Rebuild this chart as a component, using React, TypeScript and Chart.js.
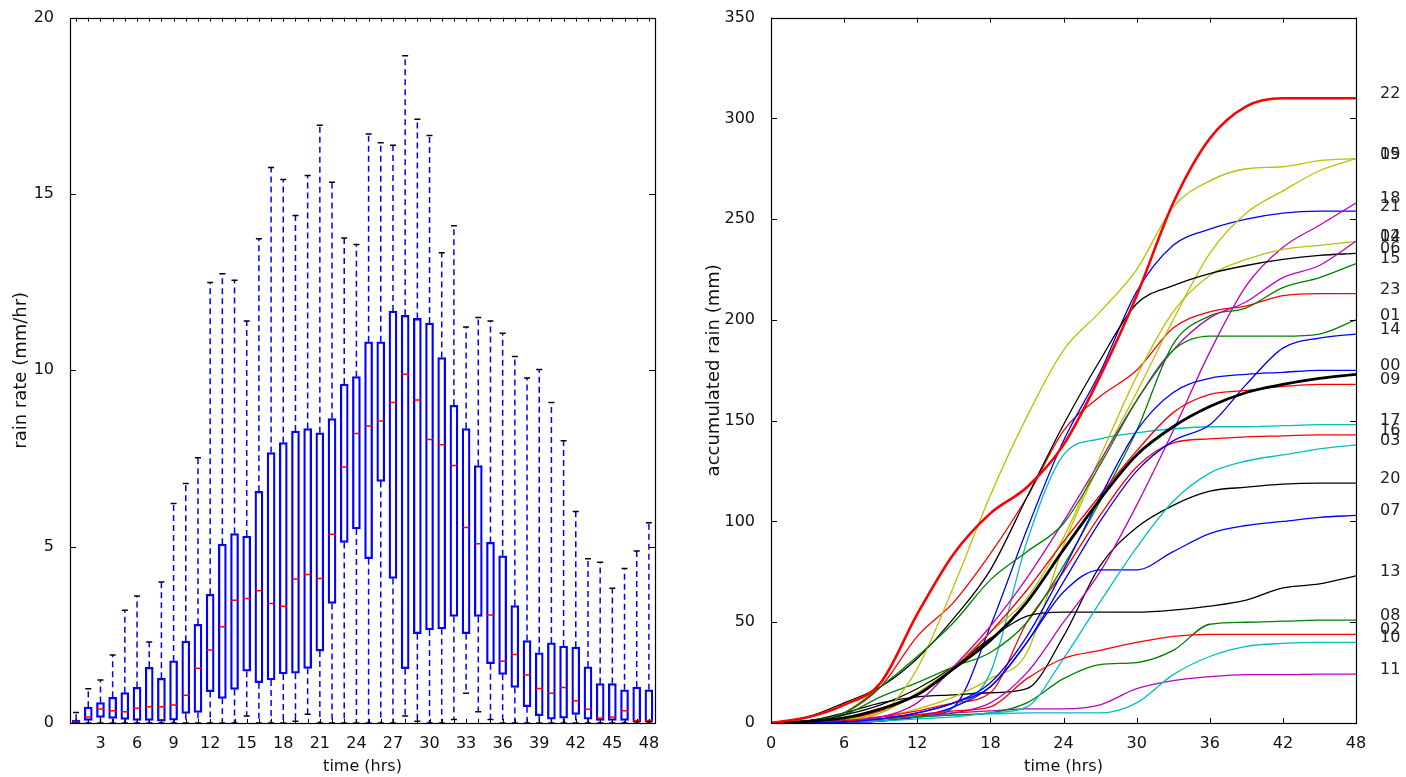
import React, { useEffect, useRef } from "react";
import { Chart, registerables } from "chart.js";

Chart.register(...registerables);

// ---------- Left panel: hourly rain-rate box plots ----------
const hours = [1, 2, 3, 4, 5, 6, 7, 8, 9, 10, 11, 12, 13, 14, 15, 16, 17, 18, 19, 20, 21, 22, 23, 24,
  25, 26, 27, 28, 29, 30, 31, 32, 33, 34, 35, 36, 37, 38, 39, 40, 41, 42, 43, 44, 45, 46, 47, 48];
const hourTickLabels = [3, 6, 9, 12, 15, 18, 21, 24, 27, 30, 33, 36, 39, 42, 45, 48];
const rateTicks = [0, 5, 10, 15, 20];

const boxHigh = [0.3, 0.97, 1.22, 1.93, 3.2, 3.6, 2.3, 4.0, 6.22, 6.79, 7.52, 12.49, 12.74, 12.55, 11.4, 13.73,
  15.75, 15.41, 14.39, 15.52, 16.95, 15.33, 13.75, 13.57, 16.7, 16.45, 16.38, 18.92, 17.12, 16.66, 13.33, 14.1,
  11.23, 11.5, 11.4, 11.05, 10.39, 9.78, 10.02, 9.09, 8.0, 6.0, 4.66, 4.56, 3.82, 4.38, 4.88, 5.68];
const boxQ3 = [0.08, 0.45, 0.58, 0.73, 0.86, 1.01, 1.58, 1.27, 1.76, 2.32, 2.8, 3.65, 5.07, 5.37, 5.3, 6.57,
  7.67, 7.95, 8.28, 8.35, 8.23, 8.63, 9.61, 9.82, 10.81, 10.81, 11.68, 11.56, 11.47, 11.34, 10.36, 9.01,
  8.35, 7.3, 5.12, 4.74, 3.33, 2.34, 1.99, 2.27, 2.18, 2.15, 1.59, 1.12, 1.12, 0.94, 1.02, 0.94];
const boxMedian = [0.04, 0.17, 0.4, 0.35, 0.32, 0.42, 0.46, 0.46, 0.51, 0.79, 1.55, 2.07, 2.73, 3.48, 3.53, 3.75,
  3.39, 3.31, 4.08, 4.21, 4.1, 5.35, 7.26, 8.21, 8.42, 8.56, 9.09, 9.89, 9.16, 8.04, 7.89, 7.3,
  5.54, 5.08, 3.06, 1.75, 1.94, 1.36, 0.98, 0.84, 1.01, 0.63, 0.39, 0.14, 0.17, 0.35, 0.07, 0.07];
const boxQ1 = [0, 0.07, 0.16, 0.13, 0.1, 0.07, 0.07, 0.05, 0.08, 0.27, 0.3, 0.89, 0.7, 0.95, 1.47, 1.14,
  1.22, 1.39, 1.41, 1.55, 2.04, 3.39, 5.12, 5.5, 4.66, 6.85, 4.1, 1.54, 2.53, 2.64, 2.67, 3.02,
  2.53, 3.02, 1.68, 1.38, 1.01, 0.46, 0.21, 0.11, 0.14, 0.24, 0.11, 0.07, 0.07, 0.07, 0.03, 0.03];
const boxLow = [0, 0, 0, 0, 0, 0, 0, 0, 0, 0, 0, 0, 0, 0, 0.2, 0,
  0, 0, 0.05, 0.25, 0, 0, 0, 0, 0, 0, 0, 0.2, 0.05, 0, 0, 0.1,
  0.84, 0.32, 0.1, 0, 0, 0, 0, 0, 0, 0, 0, 0, 0, 0, 0, 0];

// ---------- Right panel: accumulated rain per run ----------
const timeGrid = [0, 3, 6, 9, 12, 15, 18, 21, 24, 27, 30, 33, 36, 39, 42, 45, 48];
const timeTicks = [0, 6, 12, 18, 24, 30, 36, 42, 48];
const accTicks = [0, 50, 100, 150, 200, 250, 300, 350];

const rain00 = [0, 0, 0.5, 2, 5, 10, 20, 43, 76, 112, 145, 164, 171, 173, 174, 175, 175];
const rain01 = [0, 1, 5, 18, 33, 50, 71, 85, 99, 128, 160, 185, 192, 192, 192, 193, 200];
const rain02 = [0, 0.2, 1, 2, 4, 6, 8, 22, 32, 36, 40, 43, 44, 44, 44, 44, 44];
const rain03 = [0, 0, 0.5, 1, 2, 3, 5, 8, 32, 60, 87, 110, 124, 130, 133, 136, 138];
const rain04 = [0, 0.5, 1, 3, 10, 28, 48, 72, 100, 130, 160, 185, 201, 209, 221, 227, 239];
const rain05 = [0, 1, 2, 5, 27, 68, 113, 152, 185, 204, 225, 256, 269, 275, 276, 279, 280];
const rain06 = [0, 3, 10, 18, 32, 52, 76, 112, 148, 180, 208, 217, 223, 227, 230, 232, 233];
const rain07 = [0, 0.5, 1, 2, 5, 10, 18, 40, 65, 76, 76, 85, 94, 98, 100, 102, 103];
const rain08 = [0, 0.5, 1, 2, 3, 4, 5, 10, 22, 29, 30, 36, 49, 50, 50.5, 51, 51];
const rain09 = [0, 0.5, 2, 6, 14, 27, 45, 66, 90, 113, 135, 154, 163, 165, 167, 168, 168];
const rain10 = [0, 0.2, 1, 2, 3, 4, 4.5, 5, 5, 5, 10, 24, 33, 38, 39.5, 40, 40];
const rain11 = [0, 0.5, 1.5, 3, 4, 5, 6, 7, 7, 9, 17, 21, 23, 24, 24, 24.3, 24.3];
const rain12 = [0, 0.5, 2, 5, 15, 28, 45, 62, 92, 132, 172, 204, 222, 230, 235, 237, 239];
const rain13 = [0, 1, 4, 9, 17, 28, 42, 53, 55, 55, 55, 56, 58, 61, 67, 69, 73];
const rain14 = [0, 0, 0.5, 1, 3, 8, 18, 40, 70, 100, 125, 140, 148, 168, 186, 191, 193];
const rain15 = [0, 1, 4, 13, 20, 28, 35, 50, 78, 110, 145, 188, 202, 206, 216, 221, 228];
const rain16 = [0, 0.2, 1, 3, 6, 10, 15, 50, 75, 103, 127, 139, 141, 142, 142.5, 143, 143];
const rain17 = [0, 0.2, 0.5, 2, 4, 8, 25, 90, 133, 141, 144, 146, 147, 147, 147.5, 148, 148];
const rain18 = [0, 0, 0.5, 1, 3, 5, 10, 25, 50, 75, 108, 145, 184, 217, 236, 247, 258];
const rain19 = [0, 0.5, 1.5, 3, 7, 13, 22, 35, 88, 129, 164, 200, 233, 253, 264, 274, 280];
const rain20 = [0, 1, 5, 10, 13, 14, 15, 17, 43, 78, 97, 108, 115, 117, 118.5, 119, 119];
const rain21 = [0, 0, 0.5, 1, 3, 8, 48, 96, 140, 174, 214, 237, 245, 250, 253, 254, 254];
const rain22 = [0, 2.8, 9, 20, 54, 84, 104, 117, 138, 172, 212, 258, 290, 306, 310, 310, 310];
const rain23 = [0, 1, 5, 18, 43, 60, 84, 112, 145, 162, 175, 196, 204, 207, 212, 213, 213];
const rainMean = [0, 0.8, 2.5, 7, 14, 27, 41, 60, 86, 111, 133, 147, 157, 164, 168, 171, 173];

const seriesNames = ["00", "01", "02", "03", "04", "05", "06", "07", "08", "09", "10", "11",
  "12", "13", "14", "15", "16", "17", "18", "19", "20", "21", "22", "23"];
const seriesColors = ["#0000ff", "#008000", "#ff0000", "#00bfbf", "#bf00bf", "#bfbf00", "#000000",
  "#0000ff", "#008000", "#ff0000", "#00bfbf", "#bf00bf", "#bfbf00", "#000000",
  "#0000ff", "#008000", "#ff0000", "#00bfbf", "#bf00bf", "#bfbf00", "#000000",
  "#0000ff", "#ff0000", "#ff0000"];
const rainSeries = [rain00, rain01, rain02, rain03, rain04, rain05, rain06, rain07, rain08, rain09, rain10, rain11,
  rain12, rain13, rain14, rain15, rain16, rain17, rain18, rain19, rain20, rain21, rain22, rain23];

const FONT = { family: "'DejaVu Sans', sans-serif", size: 16 };
const YTITLE_FONT = { family: "'DejaVu Sans', sans-serif", size: 18 };
const TEXT = "#111111";

// Frame with inward ticks (matplotlib-like), positioned via the chart's scales
const framePlugin = {
  id: "frame",
  afterDraw(chart: any, _args: any, opts: any) {
    const { ctx, chartArea: a, scales } = chart;
    const xs = scales.x;
    const ys = scales.y;
    ctx.save();
    ctx.strokeStyle = "#000";
    ctx.lineWidth = 1;
    ctx.beginPath();
    for (const t of xs.ticks) {
      const px = Math.round(xs.getPixelForValue(t.value)) + 0.5;
      ctx.moveTo(px, a.bottom);
      ctx.lineTo(px, a.bottom - opts.xLen);
      ctx.moveTo(px, a.top);
      ctx.lineTo(px, a.top + opts.xLen);
    }
    for (const t of ys.ticks) {
      const py = Math.round(ys.getPixelForValue(t.value)) + 0.5;
      ctx.moveTo(a.left, py);
      ctx.lineTo(a.left + opts.yLen, py);
      ctx.moveTo(a.right, py);
      ctx.lineTo(a.right - opts.yLen, py);
    }
    ctx.stroke();
    ctx.lineWidth = 1.2;
    ctx.strokeRect(Math.round(a.left) + 0.5, Math.round(a.top) + 0.5, Math.round(a.width), Math.round(a.height));
    ctx.restore();
  },
};

const endLabelPlugin = {
  id: "endLabels",
  afterDraw(chart: any) {
    const { ctx, chartArea, scales } = chart;
    const ys = scales.y;
    ctx.save();
    ctx.font = "16px 'DejaVu Sans', sans-serif";
    ctx.fillStyle = "#222";
    ctx.textAlign = "left";
    ctx.textBaseline = "alphabetic";
    rainSeries.forEach((vals, i) => {
      ctx.fillText(seriesNames[i], chartArea.right + 24, ys.getPixelForValue(vals[vals.length - 1]));
    });
    ctx.restore();
  },
};

function leftConfig(): any {
  const whiskers = hours.flatMap((h, i) => [
    { x: h, y: boxQ3[i] }, { x: h, y: boxHigh[i] }, { x: h, y: null },
    { x: h, y: boxQ1[i] }, { x: h, y: boxLow[i] }, { x: h, y: null },
  ]);
  const caps = hours.flatMap((h, i) => [{ x: h, y: boxHigh[i] }, { x: h, y: boxLow[i] }]);
  return {
    type: "bar",
    data: {
      datasets: [
        {
          type: "line",
          data: whiskers,
          borderColor: "#0000ff",
          borderWidth: 1.5,
          borderDash: [6, 4],
          pointRadius: 0,
          spanGaps: false,
          order: 3,
        },
        {
          type: "bar",
          data: hours.map((h, i) => ({ x: h, y: [boxQ1[i], boxQ3[i]] })),
          backgroundColor: "rgba(0,0,0,0)",
          borderColor: "#0000ff",
          borderWidth: 1.6,
          borderSkipped: false,
          barThickness: 8,
          order: 2,
        },
        {
          type: "line",
          data: hours.map((h, i) => ({ x: h, y: boxMedian[i] })),
          showLine: false,
          pointStyle: "line",
          pointRadius: 3.5,
          pointBorderColor: "#ff0000",
          pointBorderWidth: 1.5,
          order: 1,
        },
        {
          type: "line",
          data: caps,
          showLine: false,
          pointStyle: "line",
          pointRadius: 3,
          pointBorderColor: "#000000",
          pointBorderWidth: 1.5,
          order: 1,
        },
      ],
    },
    options: {
      animation: false,
      responsive: false,
      devicePixelRatio: 1,
      layout: { padding: { left: 0, top: 17, right: 48, bottom: 0 } },
      plugins: { legend: { display: false }, tooltip: { enabled: false }, frame: { xLen: 4, yLen: 6 } },
      scales: {
        x: {
          type: "linear",
          min: 0.5,
          max: 48.5,
          offset: false,
          afterBuildTicks: (s: any) => {
            s.ticks = hours.map((v) => ({ value: v }));
          },
          afterFit: (s: any) => {
            s.height = 54;
          },
          ticks: {
            autoSkip: false,
            maxRotation: 0,
            minRotation: 0,
            padding: 3,
            font: FONT,
            color: TEXT,
            callback: (v: number) => (hourTickLabels.includes(v) ? String(v) : ""),
          },
          grid: { display: false },
          border: { display: false },
          title: { display: true, text: "time (hrs)", font: FONT, color: TEXT, padding: { top: 0, bottom: 1 } },
        },
        y: {
          type: "linear",
          min: 0,
          max: 20,
          afterBuildTicks: (s: any) => {
            s.ticks = rateTicks.map((v) => ({ value: v }));
          },
          afterFit: (s: any) => {
            s.width = 70;
          },
          ticks: { padding: 8, font: FONT, color: TEXT },
          grid: { display: false },
          border: { display: false },
          title: { display: true, text: "rain rate (mm/hr)", font: YTITLE_FONT, color: TEXT, padding: { top: 11, bottom: 0 } },
        },
      },
    },
    plugins: [framePlugin],
  };
}

function rightConfig(): any {
  const datasets: any[] = rainSeries.map((vals, i) => ({
    label: seriesNames[i],
    data: timeGrid.map((t, j) => ({ x: t, y: vals[j] })),
    borderColor: seriesColors[i],
    borderWidth: i === 22 ? 2.6 : 1.3,
    pointRadius: 0,
    cubicInterpolationMode: "monotone",
    order: i === 22 ? 0 : 2,
  }));
  datasets.push({
    label: "mean",
    data: timeGrid.map((t, j) => ({ x: t, y: rainMean[j] })),
    borderColor: "#000000",
    borderWidth: 2.8,
    pointRadius: 0,
    cubicInterpolationMode: "monotone",
    order: 1,
  });
  return {
    type: "line",
    data: { datasets },
    options: {
      animation: false,
      responsive: false,
      devicePixelRatio: 1,
      layout: { padding: { left: 0, top: 17, right: 50, bottom: 0 } },
      plugins: { legend: { display: false }, tooltip: { enabled: false }, frame: { xLen: 5, yLen: 6 } },
      scales: {
        x: {
          type: "linear",
          min: 0,
          max: 48,
          afterBuildTicks: (s: any) => {
            s.ticks = timeTicks.map((v) => ({ value: v }));
          },
          afterFit: (s: any) => {
            s.height = 54;
          },
          ticks: { autoSkip: false, maxRotation: 0, padding: 3, font: FONT, color: TEXT },
          grid: { display: false },
          border: { display: false },
          title: { display: true, text: "time (hrs)", font: FONT, color: TEXT, padding: { top: 0, bottom: 1 } },
        },
        y: {
          type: "linear",
          min: 0,
          max: 350,
          afterBuildTicks: (s: any) => {
            s.ticks = accTicks.map((v) => ({ value: v }));
          },
          afterFit: (s: any) => {
            s.width = 68;
          },
          ticks: { padding: 8, font: FONT, color: TEXT },
          grid: { display: false },
          border: { display: false },
          title: { display: true, text: "accumulated rain (mm)", font: YTITLE_FONT, color: TEXT, padding: { top: 1, bottom: 0 } },
        },
      },
    },
    plugins: [framePlugin, endLabelPlugin],
  };
}

export default function App() {
  const leftRef = useRef<HTMLCanvasElement>(null);
  const rightRef = useRef<HTMLCanvasElement>(null);

  useEffect(() => {
    const left = new Chart(leftRef.current as HTMLCanvasElement, leftConfig());
    const right = new Chart(rightRef.current as HTMLCanvasElement, rightConfig());
    return () => {
      left.destroy();
      right.destroy();
    };
  }, []);

  return (
    <div style={{ position: "fixed", left: 0, top: 0, width: 1406, height: 777, background: "#ffffff" }}>
      <div style={{ position: "absolute", left: 0, top: 0, width: 703, height: 777 }}>
        <canvas ref={leftRef} width={703} height={777} style={{ display: "block" }} />
      </div>
      <div style={{ position: "absolute", left: 703, top: 0, width: 703, height: 777 }}>
        <canvas ref={rightRef} width={703} height={777} style={{ display: "block" }} />
      </div>
    </div>
  );
}
